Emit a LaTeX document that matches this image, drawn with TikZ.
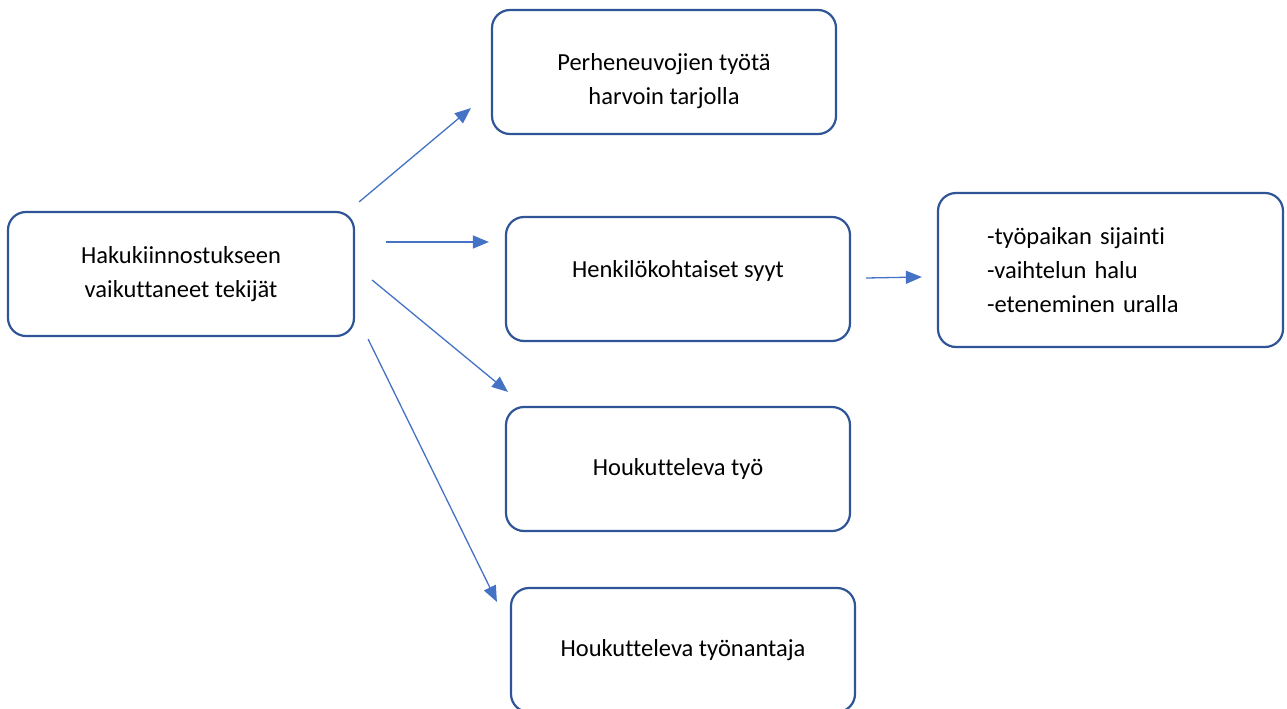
\documentclass[tikz,border=0pt]{standalone}
\usepackage{fontspec}
\setmainfont{Carlito}[Ligatures=CommonOff]
\usepackage{xcolor}
\usetikzlibrary{shapes,arrows.meta,positioning}

\definecolor{boxblue}{RGB}{47,85,151}
\definecolor{arrowblue}{RGB}{68,114,196}

\tikzset{
  factor/.style={shape=rectangle, draw=boxblue, line width=2.2pt, rounded corners=18pt,
    minimum width=344pt, minimum height=124pt, align=center,
    font=\fontsize{24.5}{34}\selectfont},
  link/.style={draw=arrowblue, line width=1.3pt, -{Triangle[length=16pt,width=13pt]}}
}

\begin{document}
\begin{tikzpicture}[x=1pt,y=-1pt]

\useasboundingbox (0,0) rectangle (1287,709);

% Main factor
\node [factor, minimum width=346pt] at (181,274) (hak) {Hakukiinnostukseen\\vaikuttaneet tekijät};

% Factors
\node [factor, text height=69pt] at (664,72) (perhe) {Perheneuvojien työtä\\harvoin tarjolla};
\node [factor, text depth=20pt]  at (678,279) (henk)   {Henkilökohtaiset syyt};
\node [factor] at (678,469) (tyo)    {Houkutteleva työ};
\node [factor] at (683,650) (antaja) {Houkutteleva työnantaja};

% Personal reasons
\node [factor, minimum width=345pt, minimum height=154pt, align=left, text width=247pt, inner xsep=49pt]
  at (1110.5,270) (syyt) {-työpaikan sijainti\\-vaihtelun halu\\-eteneminen uralla};

\draw [link] ([shift={(4,-9)}]hak.north east) -- ([shift={(-20,-27)}]perhe.south west);
\draw [link] ([shift={(31,-32)}]hak.east) -- ([shift={(-16,-37)}]henk.west);
\draw [link] ([shift={(17,6)}]hak.east) -- ([shift={(3,-14)}]tyo.north west);
\draw [link] ([shift={(13,2)}]hak.south east) -- ([shift={(-13,15)}]antaja.north west);
\draw [link] ([shift={(15,-1)}]henk.east) -- ([shift={(-15,7)}]syyt.west);

\end{tikzpicture}
\end{document}
